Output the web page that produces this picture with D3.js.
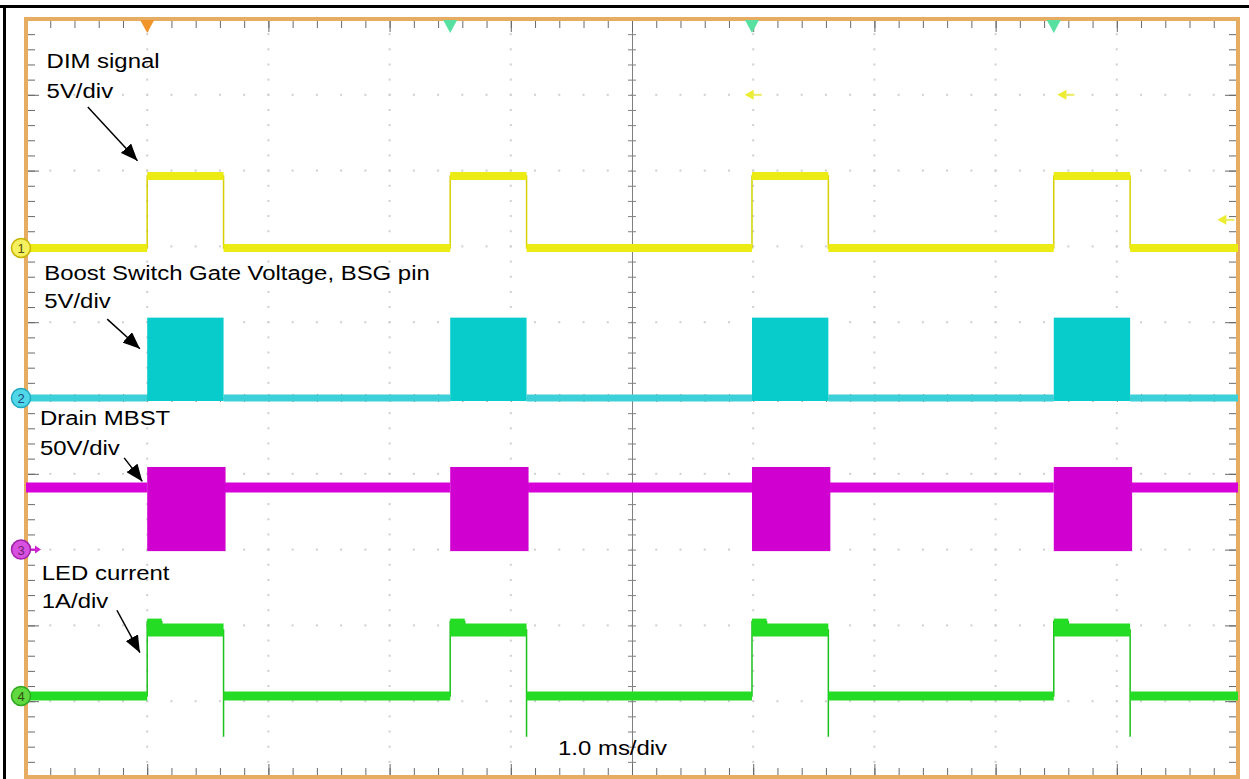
<!DOCTYPE html>
<html>
<head>
<meta charset="utf-8">
<script src="https://cdn.jsdelivr.net/npm/d3@7"></script>
<style>
body{margin:0;background:#fff}
text{font-family:"Liberation Sans",Arial,sans-serif}
</style>
</head>
<body>
<svg id="scope" width="1249" height="779"></svg>
<script>
// pulse edges in ms (1.0 ms/div)
var pulseOn = [1.0, 3.5, 5.99, 8.48]
var pulseOff = [1.63, 4.13, 6.62, 9.11]

// channel ground markers, in divisions from screen centre
var chanNames = ["1", "2", "3", "4"]
var chanPos = [1.98, 0, -2, -3.93]
var chanPerDiv = [5, 5, 50, 1]

// ch1 DIM signal (V)
var dimLow = 0, dimHigh = 4.75
// ch2 boost switch gate (V): idle level, top of switching burst
var bsgLow = 0, bsgTop = 5.3
// ch3 drain MBST (V)
var drainIdle = 41, drainTop = 54.5, drainBottom = -1
// ch4 LED current (A)
var ledLow = 0, ledPeak = 0.98, ledHigh = 0.87, ledDip = -0.54
var ledPeakLen = 0.12 // ms

// annotations: [text, ms, div]
var labels = [
    ["DIM signal", 0.17, 4.35],
    ["5V/div", 0.17, 3.96],
    ["Boost Switch Gate Voltage, BSG pin", 0.15, 1.56],
    ["5V/div", 0.15, 1.19],
    ["Drain MBST", 0.115, -0.36],
    ["50V/div", 0.115, -0.75],
    ["LED current", 0.13, -2.40],
    ["1A/div", 0.13, -2.77],
    ["1.0 ms/div", 4.39, -4.71]
]
// arrows: [from ms, from div, to ms, to div]
var arrows = [
    [0.51, 3.84, 0.92, 3.13],
    [0.67, 1.04, 0.94, 0.65],
    [0.81, -0.79, 0.96, -1.10],
    [0.75, -2.80, 0.94, -3.36]
]
// yellow level pointers [ms, div]
var levelMarks = [[5.93, 4.0], [8.51, 4.0], [9.83, 2.35]]

var screen = {width: 1249, height: 779}
var x = d3.scaleLinear().domain([0, 10]).range([26, 1238])
var y = d3.scaleLinear().domain([5, -5]).range([19, 777])
var yc = function(ch, v) { return y(chanPos[ch] + v / chanPerDiv[ch]) }

var svg = d3.select("#scope")

// outer frame (top and left only show in the shot)
svg.append("line").attr("x1", 0).attr("x2", screen.width).attr("y1", 6.5).attr("y2", 6.5)
    .attr("stroke", "black").attr("stroke-width", 3)
svg.append("line").attr("x1", 4.5).attr("x2", 4.5).attr("y1", 5).attr("y2", screen.height)
    .attr("stroke", "black").attr("stroke-width", 3)

// grid dots along major lines
var xMinor = d3.range(0, 10.001, 0.2)
var yMinor = d3.range(-5, 5.001, 0.2)
var xMajor = [1, 2, 3, 4, 6, 7, 8, 9]
var yMajor = [4, 3, 2, 1, -1, -2, -3, -4]
var dots = []
xMajor.forEach(function(m) { yMinor.forEach(function(v) { dots.push([m, v]) }) })
yMajor.forEach(function(m) { xMinor.forEach(function(t) { dots.push([t, m]) }) })
svg.append("g").selectAll("rect")
    .data(dots)
    .enter()
    .append("rect")
    .attr("x", function(d) { return x(d[0]) - 1 })
    .attr("y", function(d) { return y(d[1]) - 1 })
    .attr("width", 2)
    .attr("height", 2)
    .attr("fill", "#cfcfcf")

// centre crosshair with minor ticks
var tickStyle = function(g, col) {
    g.selectAll(".tick text").remove()
    g.selectAll("line").attr("stroke", col)
    g.select(".domain").attr("stroke", col)
}
svg.append("g").attr("transform", "translate(" + x(5) + ",0)")
    .call(d3.axisLeft(y).tickValues(yMinor).tickSize(4).tickSizeOuter(0))
    .call(tickStyle, "#808080")
svg.append("g").attr("transform", "translate(" + x(5) + ",0)")
    .call(d3.axisRight(y).tickValues(yMinor).tickSize(4).tickSizeOuter(0))
    .call(tickStyle, "#808080")
svg.append("g").attr("transform", "translate(0," + y(0) + ")")
    .call(d3.axisTop(x).tickValues(xMinor).tickSize(4).tickSizeOuter(0))
    .call(tickStyle, "#808080")
svg.append("g").attr("transform", "translate(0," + y(0) + ")")
    .call(d3.axisBottom(x).tickValues(xMinor).tickSize(4).tickSizeOuter(0))
    .call(tickStyle, "#808080")

// border ticks, pointing inward
var edge = function(axis, tr, vals, len) {
    svg.append("g").attr("transform", tr)
        .call(axis.tickValues(vals).tickSize(-len).tickSizeOuter(0))
        .call(function(g) {
            g.select(".domain").remove()
            g.selectAll(".tick text").remove()
            g.selectAll("line").attr("stroke", "#6a6a6a")
        })
}
edge(d3.axisTop(x), "translate(0," + y(5) + ")", xMinor, 9)
edge(d3.axisBottom(x), "translate(0," + y(-5) + ")", xMinor, 9)
edge(d3.axisLeft(y), "translate(" + x(0) + ",0)", yMinor, 9)
edge(d3.axisRight(y), "translate(" + x(10) + ",0)", yMinor, 9)
edge(d3.axisTop(x), "translate(0," + y(5) + ")", d3.range(0, 10.001, 1), 13)
edge(d3.axisBottom(x), "translate(0," + y(-5) + ")", d3.range(0, 10.001, 1), 13)
edge(d3.axisLeft(y), "translate(" + x(0) + ",0)", d3.range(-5, 5.001, 1), 13)
edge(d3.axisRight(y), "translate(" + x(10) + ",0)", d3.range(-5, 5.001, 1), 13)

// orange screen frame
svg.append("rect")
    .attr("x", x(0)).attr("y", y(5))
    .attr("width", x(10) - x(0)).attr("height", y(-5) - y(5))
    .attr("fill", "none").attr("stroke", "#e6ad62").attr("stroke-width", 4)

// gaps between pulses: [from, to] for the idle levels
var idleSpans = [[0, pulseOn[0]]]
pulseOn.forEach(function(on, i) {
    idleSpans.push([pulseOff[i], i < pulseOn.length - 1 ? pulseOn[i + 1] : 10])
})
var onSpans = pulseOn.map(function(on, i) { return [on, pulseOff[i]] })

var traces = svg.append("g")

var band = function(spans, ch, level, w, col) {
    traces.append("g").selectAll("line")
        .data(spans)
        .enter()
        .append("line")
        .attr("x1", function(d) { return x(d[0]) })
        .attr("x2", function(d) { return x(d[1]) })
        .attr("y1", yc(ch, level))
        .attr("y2", yc(ch, level))
        .attr("stroke", col)
        .attr("stroke-width", w)
}
var stepLine = function(pts, ch, col, w) {
    traces.append("path")
        .datum(pts)
        .attr("d", d3.line().x(function(d) { return x(d[0]) }).y(function(d) { return yc(ch, d[1]) }))
        .attr("fill", "none")
        .attr("stroke", col)
        .attr("stroke-width", w)
}

// ch1 DIM
var dimPts = [[0, dimLow]]
pulseOn.forEach(function(on, i) {
    dimPts.push([on, dimLow], [on, dimHigh], [pulseOff[i], dimHigh], [pulseOff[i], dimLow])
})
dimPts.push([10, dimLow])
stepLine(dimPts, 0, "#d6d000", 1.5)
band(idleSpans, 0, dimLow, 8, "#ecec14")
band(onSpans, 0, dimHigh, 8, "#ecec14")

// ch2 BSG: idle trace + switching bursts
band(idleSpans, 1, bsgLow, 7, "#3cd0d8")
traces.append("g").selectAll("rect")
    .data(onSpans)
    .enter()
    .append("rect")
    .attr("x", function(d) { return x(d[0]) })
    .attr("width", function(d) { return x(d[1]) - x(d[0]) })
    .attr("y", yc(1, bsgTop))
    .attr("height", yc(1, bsgLow) - yc(1, bsgTop) + 3)
    .attr("fill", "#08cccc")

// ch3 drain
band(idleSpans, 2, drainIdle, 10, "#d800d8")
traces.append("g").selectAll("rect")
    .data(onSpans)
    .enter()
    .append("rect")
    .attr("x", function(d) { return x(d[0]) })
    .attr("width", function(d) { return x(d[1]) - x(d[0]) + 2 })
    .attr("y", yc(2, drainTop))
    .attr("height", yc(2, drainBottom) - yc(2, drainTop))
    .attr("fill", "#d000d0")

// ch4 LED current
var ledPts = [[0, ledLow]]
pulseOn.forEach(function(on, i) {
    ledPts.push([on, ledLow], [on, ledPeak], [on + ledPeakLen, ledPeak], [on + ledPeakLen, ledHigh],
        [pulseOff[i], ledHigh], [pulseOff[i], ledDip], [pulseOff[i], ledLow])
})
ledPts.push([10, ledLow])
stepLine(ledPts, 3, "#1cc01c", 1.5)
band(idleSpans, 3, ledLow, 9, "#24dc24")
band(onSpans, 3, ledHigh, 13, "#24dc24")
band(onSpans.map(function(d) { return [d[0], d[0] + ledPeakLen] }), 3, ledPeak, 6, "#24dc24")

// trigger / cursor markers on top edge
var tri = function(t, col) {
    var cx = x(t), top = y(5)
    svg.append("path")
        .attr("d", "M" + (cx - 7) + "," + (top + 1) + "L" + (cx + 7) + "," + (top + 1) + "L" + cx + "," + (top + 14) + "Z")
        .attr("fill", col)
}
tri(pulseOn[0], "#f0952a")
pulseOn.slice(1).forEach(function(t) { tri(t, "#58e0a0") })

// yellow level pointers
levelMarks.forEach(function(m) {
    var px = x(m[0]), py = y(m[1])
    svg.append("path")
        .attr("d", "M" + px + "," + py + "l9,-5l0,10Z")
        .attr("fill", "#ecec30")
    svg.append("line").attr("x1", px + 8).attr("x2", px + 17).attr("y1", py).attr("y2", py)
        .attr("stroke", "#ecec60").attr("stroke-width", 2)
})

// channel ground markers
var marks = svg.append("g").selectAll("g")
    .data(chanNames)
    .enter()
    .append("g")
    .attr("transform", function(d, i) { return "translate(" + (x(0) - 5) + "," + y(chanPos[i]) + ")" })
marks.filter(function(d, i) { return i == 2 }).append("path")
    .attr("d", "M8,-1.2L14,-1.2L14,-4L20,0L14,4L14,1.2L8,1.2Z")
    .attr("fill", "#d020d0")
marks.append("circle")
    .attr("r", 9.5)
    .attr("fill", function(d, i) { return ["#f4f060", "#50d8e8", "#d850e0", "#60d840"][i] })
    .attr("stroke", function(d, i) { return ["#c8b400", "#20a8c0", "#a020a8", "#30a820"][i] })
    .attr("stroke-width", 1.5)
marks.append("text")
    .text(function(d) { return d })
    .attr("text-anchor", "middle")
    .attr("y", 5)
    .attr("font-size", "13px")
    .attr("fill", function(d, i) { return ["#555500", "#1a4a80", "#702070", "#305010"][i] })

// annotations
svg.append("defs").append("marker")
    .attr("id", "head")
    .attr("markerUnits", "userSpaceOnUse")
    .attr("markerWidth", 18).attr("markerHeight", 14)
    .attr("refX", 17).attr("refY", 7)
    .attr("orient", "auto")
    .append("path")
    .attr("d", "M0,0L17,7L0,14Z")
    .attr("fill", "black")

svg.append("g").selectAll("line")
    .data(arrows)
    .enter()
    .append("line")
    .attr("x1", function(d) { return x(d[0]) })
    .attr("y1", function(d) { return y(d[1]) })
    .attr("x2", function(d) { return x(d[2]) })
    .attr("y2", function(d) { return y(d[3]) })
    .attr("stroke", "black")
    .attr("stroke-width", 1.5)
    .attr("marker-end", "url(#head)")

svg.append("g").selectAll("text")
    .data(labels)
    .enter()
    .append("text")
    .text(function(d) { return d[0] })
    .attr("transform", function(d) { return "translate(" + x(d[1]) + "," + y(d[2]) + ") scale(1.14,1)" })
    .attr("font-size", "21px")
    .attr("fill", "black")
</script>
</body>
</html>
